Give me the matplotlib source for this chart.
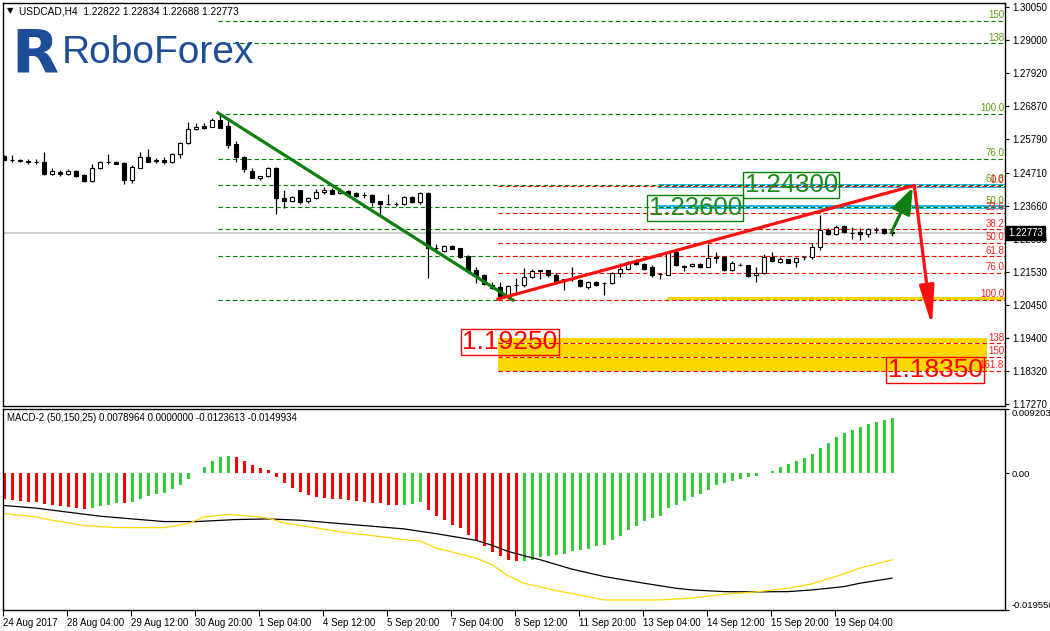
import matplotlib
matplotlib.use('Agg')
import matplotlib.pyplot as plt
import matplotlib.transforms as mtransforms
import numpy as np

# Fonts setting
plt.rcParams['font.family'] = ['Liberation Sans', 'DejaVu Sans']
plt.rcParams['lines.scale_dashes'] = False

# USDCAD H4 candles
opens = [1.2526, 1.2513, 1.2514, 1.2508, 1.2507, 1.2505, 1.2468, 1.2474, 1.2468, 1.2477,
         1.2464, 1.2445, 1.2488, 1.2505, 1.2507, 1.2503, 1.2449, 1.2488, 1.2523, 1.2513,
         1.2514, 1.2505, 1.2533, 1.2566, 1.2611, 1.2622, 1.2620, 1.2641, 1.2621, 1.2564,
         1.2522, 1.2476, 1.2453, 1.2460, 1.2488, 1.2389, 1.2379, 1.2415, 1.2380, 1.2389,
         1.2408, 1.2416, 1.2405, 1.2413, 1.2406, 1.2400, 1.2400, 1.2380, 1.2370, 1.2371,
         1.2370, 1.2393, 1.2376, 1.2405, 1.2229, 1.2221, 1.2236, 1.2228, 1.2203, 1.2158,
         1.2141, 1.2109, 1.2103, 1.2070, 1.2110, 1.2111, 1.2135, 1.2155, 1.2158, 1.2141,
         1.2123, 1.2128, 1.2126, 1.2105, 1.2120, 1.2115, 1.2116, 1.2148, 1.2161, 1.2186,
         1.2178, 1.2169, 1.2144, 1.2143, 1.2216, 1.2169, 1.2171, 1.2178, 1.2169, 1.2201,
         1.2201, 1.2160, 1.2176, 1.2173, 1.2141, 1.2148, 1.2199, 1.2184, 1.2193, 1.2184,
         1.2199, 1.2199, 1.2231, 1.2287, 1.2274, 1.2300, 1.2279, 1.2282, 1.2274, 1.2287,
         1.2289, 1.22822]
highs = [1.2529, 1.2529, 1.2516, 1.2516, 1.2516, 1.2537, 1.2488, 1.2480, 1.2483, 1.2479,
         1.2468, 1.2499, 1.2509, 1.2531, 1.2509, 1.2505, 1.2496, 1.2539, 1.2548, 1.2518,
         1.2521, 1.2535, 1.2569, 1.2636, 1.2630, 1.2630, 1.2647, 1.2661, 1.2649, 1.2574,
         1.2524, 1.2486, 1.2462, 1.2491, 1.2491, 1.2415, 1.2398, 1.2417, 1.2393, 1.2419,
         1.2426, 1.2421, 1.2421, 1.2417, 1.2411, 1.2408, 1.2404, 1.2380, 1.2402, 1.2378,
         1.2396, 1.2396, 1.2411, 1.2411, 1.2241, 1.2239, 1.2238, 1.2229, 1.2206, 1.2169,
         1.2144, 1.2121, 1.2121, 1.2111, 1.2132, 1.2165, 1.2163, 1.2160, 1.2160, 1.2148,
         1.2128, 1.2167, 1.2128, 1.2122, 1.2122, 1.2120, 1.2152, 1.2180, 1.2188, 1.2193,
         1.2180, 1.2173, 1.2150, 1.2221, 1.2219, 1.2175, 1.2180, 1.2182, 1.2242, 1.2216,
         1.2203, 1.2186, 1.2180, 1.2176, 1.2169, 1.2210, 1.2216, 1.2201, 1.2195, 1.2199,
         1.2203, 1.2244, 1.2337, 1.2292, 1.2304, 1.2304, 1.2298, 1.2292, 1.2294, 1.2296,
         1.2294, 1.22834]
lows = [1.2511, 1.2505, 1.2505, 1.2500, 1.2500, 1.2464, 1.2464, 1.2462, 1.2464, 1.2458,
        1.2443, 1.2441, 1.2482, 1.2501, 1.2499, 1.2435, 1.2440, 1.2486, 1.2507, 1.2503,
        1.2499, 1.2503, 1.2520, 1.2563, 1.2610, 1.2612, 1.2618, 1.2617, 1.2552, 1.2505,
        1.2475, 1.2453, 1.2447, 1.2458, 1.2338, 1.2357, 1.2376, 1.2372, 1.2374, 1.2387,
        1.2402, 1.2404, 1.2404, 1.2400, 1.2393, 1.2391, 1.2365, 1.2331, 1.2368, 1.2363,
        1.2368, 1.2374, 1.2370, 1.2132, 1.2213, 1.2217, 1.2225, 1.2197, 1.2150, 1.2115,
        1.2109, 1.2098, 1.2062, 1.2064, 1.2078, 1.2105, 1.2133, 1.2131, 1.2137, 1.2118,
        1.2094, 1.2124, 1.2103, 1.2096, 1.2107, 1.2079, 1.2113, 1.2135, 1.2158, 1.2173,
        1.2158, 1.2137, 1.2128, 1.2141, 1.2171, 1.2156, 1.2167, 1.2165, 1.2167, 1.2182,
        1.2156, 1.2156, 1.2171, 1.2137, 1.2120, 1.2145, 1.2184, 1.2182, 1.2180, 1.2169,
        1.2191, 1.2195, 1.2223, 1.2272, 1.2270, 1.2276, 1.2259, 1.2255, 1.2266, 1.2278,
        1.2274, 1.22688]
closes = [1.2514, 1.2512, 1.2508, 1.2507, 1.2506, 1.2468, 1.2477, 1.2468, 1.2477, 1.2460,
          1.2446, 1.2488, 1.2505, 1.2506, 1.2501, 1.2449, 1.2490, 1.2523, 1.2507, 1.2509,
          1.2505, 1.2533, 1.2566, 1.2612, 1.2619, 1.2617, 1.2640, 1.2617, 1.2561, 1.2521,
          1.2482, 1.2453, 1.2460, 1.2488, 1.2389, 1.2379, 1.2393, 1.2378, 1.2389, 1.2408,
          1.2416, 1.2404, 1.2413, 1.2402, 1.2396, 1.2399, 1.2378, 1.2370, 1.2370, 1.2370,
          1.2393, 1.2376, 1.2405, 1.2228, 1.2228, 1.2236, 1.2227, 1.2201, 1.2156, 1.2139,
          1.2113, 1.2100, 1.2073, 1.2107, 1.2111, 1.2135, 1.2156, 1.2158, 1.2141, 1.2121,
          1.2128, 1.2129, 1.2107, 1.2120, 1.2111, 1.2116, 1.2150, 1.2161, 1.2184, 1.2178,
          1.2163, 1.2141, 1.2145, 1.2216, 1.2173, 1.2170, 1.2177, 1.2169, 1.2197, 1.2197,
          1.2158, 1.2180, 1.2175, 1.2139, 1.2148, 1.2199, 1.2188, 1.2195, 1.2182, 1.2197,
          1.2200, 1.2231, 1.2287, 1.2274, 1.2298, 1.2280, 1.2278, 1.2274, 1.2289, 1.2288,
          1.2278, 1.22773]

# MACD-2 (50,150,25)
macd_hist = [-0.00374, -0.00383, -0.00398, -0.00407, -0.00417, -0.00441, -0.00460, -0.00470, -0.00484, -0.00498,
             -0.00508, -0.00494, -0.00470, -0.00446, -0.00422, -0.00431, -0.00412, -0.00364, -0.00326, -0.00302,
             -0.00288, -0.00220, -0.00173, -0.00086, 0.00010, 0.00096, 0.00173, 0.00230, 0.00244, 0.00230,
             0.00173, 0.00115, 0.00072, 0.00048, -0.00058, -0.00134, -0.00216, -0.00268, -0.00311, -0.00340,
             -0.00359, -0.00369, -0.00374, -0.00383, -0.00398, -0.00403, -0.00422, -0.00431, -0.00446, -0.00460,
             -0.00446, -0.00441, -0.00412, -0.00518, -0.00604, -0.00661, -0.00733, -0.00786, -0.00877, -0.00949,
             -0.01035, -0.01121, -0.01188, -0.01236, -0.01260, -0.01251, -0.01236, -0.01203, -0.01179, -0.01169,
             -0.01150, -0.01117, -0.01102, -0.01078, -0.01045, -0.01021, -0.00958, -0.00891, -0.00815, -0.00748,
             -0.00685, -0.00642, -0.00604, -0.00498, -0.00455, -0.00398, -0.00340, -0.00302, -0.00240, -0.00173,
             -0.00144, -0.00110, -0.00077, -0.00058, -0.00038, 0.00010, 0.00038, 0.00096, 0.00129, 0.00173,
             0.00216, 0.00273, 0.00364, 0.00436, 0.00518, 0.00575, 0.00618, 0.00661, 0.00709, 0.00738,
             0.00757, 0.00790]
black_bars = [0, 4, 8, 12, 16, 20, 24, 29, 33, 37, 42, 46, 50, 54, 59, 61, 63, 65, 67, 71,
              75, 80, 84, 86, 90, 94, 98, 101, 105, 107, 111]
black_line = [-0.00460, -0.00498, -0.00556, -0.00613, -0.00652, -0.00690, -0.00690, -0.00661, -0.00652, -0.00671,
              -0.00719, -0.00757, -0.00795, -0.00863, -0.00958, -0.01030, -0.01117, -0.01179, -0.01236, -0.01371,
              -0.01476, -0.01572, -0.01644, -0.01668, -0.01692, -0.01696, -0.01692, -0.01668, -0.01620, -0.01572,
              -0.01499]
yellow_bars = [0, 4, 6, 10, 14, 20, 23, 25, 28, 31, 33, 35, 39, 43, 46, 50, 52, 54, 59, 61,
               63, 65, 69, 73, 75, 82, 86, 90, 94, 98, 101, 105, 107, 111]
yellow_line = [-0.00575, -0.00623, -0.00671, -0.00748, -0.00776, -0.00776, -0.00719, -0.00623, -0.00589, -0.00613,
               -0.00642, -0.00709, -0.00781, -0.00853, -0.00891, -0.00949, -0.00968, -0.01069, -0.01212, -0.01308,
               -0.01466, -0.01572, -0.01677, -0.01763, -0.01811, -0.01811, -0.01783, -0.01730, -0.01696, -0.01644,
               -0.01581, -0.01438, -0.01356, -0.01236]

price_ticks = [1.30050, 1.29000, 1.27920, 1.26870, 1.25790, 1.24710, 1.23660, 1.22580,
               1.21530, 1.20450, 1.19400, 1.18320, 1.17270]
macd_ticks = [0.009203, 0.0, -0.019550]
macd_tick_labels = ['0.009203', '0.00', '-0.019550']
date_labels = ['24 Aug 2017', '28 Aug 04:00', '29 Aug 12:00', '30 Aug 20:00', '1 Sep 04:00',
               '4 Sep 12:00', '5 Sep 20:00', '7 Sep 04:00', '8 Sep 12:00', '11 Sep 20:00',
               '13 Sep 04:00', '14 Sep 12:00', '15 Sep 20:00', '19 Sep 04:00']

# Fibonacci grids
green_fib_low, green_fib_high = 1.2062, 1.2661
green_fib_ratios = [0.0, 23.6, 38.2, 50.0, 61.8, 76.0, 100.0, 138, 150]
green_fib_shown = [50.0, 61.8, 76.0, 100.0, 138, 150]   # the others sit under the red labels
red_fib_high, red_fib_low = 1.2430, 1.2062
red_fib_ratios = [0.0, 23.6, 38.2, 50.0, 61.8, 76.0, 100.0, 138, 150, 161.8]

current_price = 1.22773
target_up = [1.23600, 1.24300]
target_down = [1.19250, 1.18350]

# Creating the figure
W, H = 1050, 631
fig = plt.figure(figsize=(W / 100, H / 100), dpi=100)
ax = fig.add_axes([3 / W, 225 / H, 1002 / W, 403 / H])
ax2 = fig.add_axes([3 / W, 21 / H, 1002 / W, 201 / H])

bars = np.arange(len(closes))
o = np.array(opens)
c = np.array(closes)
up = c >= o

# candles
ax.vlines(bars, lows, highs, color='black', lw=0.9, zorder=3)
ax.bar(bars, np.abs(c - o), bottom=np.minimum(o, c), width=0.62,
       color=np.where(up, 'white', 'black'), edgecolor='black', linewidth=0.8, zorder=4)

# current price line
ax.axhline(current_price, color='#c0c0c0', lw=1.1, zorder=1)

# zones
ax.fill_between([81.75, 126], 1.2421, 1.2436, color='#1fb5ee', lw=0, zorder=1)
ax.fill_between([81.75, 126], 1.2354, 1.2368, color='#1fb5ee', lw=0, zorder=1)
ax.fill_between([82.9, 126], 1.2062, 1.2072, color='#ffd700', lw=0, zorder=1)
ax.fill_between([61.75, 122.9], 1.1834, 1.1940, color='#ffd700', lw=0, zorder=1)

# green fibo
for r in green_fib_ratios:
    lvl = green_fib_low + r / 100 * (green_fib_high - green_fib_low)
    ax.plot([26.75, 126], [lvl, lvl], color='#008000', lw=0.8, dashes=(3.2, 2.0),
            gapcolor='white', zorder=2)
    if r in green_fib_shown:
        lab = '%g' % r if r > 100 else '%.1f' % r
        ax.text(125.0, lvl + 0.0002, lab, color='#5f9a10', fontsize=7, ha='right', va='bottom', zorder=5)

# red fibo
for r in red_fib_ratios:
    lvl = red_fib_high - r / 100 * (red_fib_high - red_fib_low)
    ax.plot([61.75, 126], [lvl, lvl], color='#ff0000', lw=0.8, dashes=(3.2, 2.0),
            gapcolor='white', zorder=2)
    lab = '%g' % r if r > 100 else '%.1f' % r
    ax.text(125.0, lvl + 0.0002, lab, color='#ff2020', fontsize=7, ha='right', va='bottom', zorder=6)

# trend lines
ax.plot([26.75, 63.6], [1.2664, 1.2062], color='#0f7f0f', lw=2.3, zorder=6)
ax.plot([61.75, 113.75], [1.2065, 1.2430], color='#ff1010', lw=2.3, zorder=6)
ax.annotate('', xy=(113.6, 1.2424), xytext=(110.9, 1.2278),
            arrowprops=dict(arrowstyle='-|>,head_length=1.6,head_width=0.6', color='#0f7f0f',
                            lw=2.3, shrinkA=0, shrinkB=0), zorder=7)
ax.annotate('', xy=(116.0, 1.1978), xytext=(113.8, 1.2428),
            arrowprops=dict(arrowstyle='-|>,head_length=2.4,head_width=0.45', color='#ff1010',
                            lw=2.3, shrinkA=0, shrinkB=0), zorder=7)

# target labels
ax.text(86.4, 1.2358, '%.5f' % target_up[0], color='#1a8c1a', fontsize=18.5, ha='center', va='center',
        bbox=dict(boxstyle='square,pad=0.05', fc='none', ec='#008000', lw=1), zorder=8)
ax.text(98.4, 1.2432, '%.5f' % target_up[1], color='#1a8c1a', fontsize=18.5, ha='center', va='center',
        bbox=dict(boxstyle='square,pad=0.05', fc='none', ec='#008000', lw=1), zorder=8)
ax.text(63.25, 1.1927, '%.5f' % target_down[0], color='#ff0000', fontsize=19, ha='center', va='center',
        bbox=dict(boxstyle='square,pad=0.05', fc='none', ec='#ff0000', lw=1), zorder=8)
ax.text(116.4, 1.1836, '%.5f' % target_down[1], color='#ff0000', fontsize=19, ha='center', va='center',
        bbox=dict(boxstyle='square,pad=0.05', fc='none', ec='#ff0000', lw=1), zorder=8)

# price axis
ax.set_xlim(-0.125, 125.125)
ax.set_ylim(1.17206, 1.30179)
ax.set_xticks([])
ax.yaxis.tick_right()
ax.set_yticks(price_ticks)
ax.set_yticklabels(['%.5f' % p for p in price_ticks])
ax.tick_params(axis='y', direction='out', length=3, width=0.8, labelsize=7, pad=2)
for s in ax.spines.values():
    s.set_linewidth(1)

trans = mtransforms.blended_transform_factory(ax.transAxes, ax.transData)
ax.text(1.003, current_price, '%.5f' % current_price, transform=trans, color='white', fontsize=7,
        ha='left', va='center', clip_on=False, zorder=10,
        bbox=dict(boxstyle='square,pad=0.25', fc='black', ec='black'))

# MACD panel
h = np.array(macd_hist)
rising = np.r_[False, h[1:] > h[:-1]]
ax2.bar(bars, h, width=0.38, color=np.where(rising, '#32cd32', '#ff0000'), lw=0)
ax2.plot(black_bars, black_line, color='black', lw=0.9)
ax2.plot(yellow_bars, yellow_line, color='#ffd700', lw=0.9)
ax2.set_xlim(-0.125, 125.125)
ax2.set_ylim(-0.019550, 0.009203)
ax2.yaxis.tick_right()
ax2.set_yticks(macd_ticks)
ax2.set_yticklabels(macd_tick_labels)
ax2.tick_params(axis='y', direction='out', length=3, width=0.8, labelsize=6.8, pad=2)
ylabs = ax2.get_yticklabels()
ylabs[0].set_va('top')
ylabs[2].set_va('bottom')
ax2.set_xticks(np.arange(len(date_labels)) * 8 - 0.15)
ax2.set_xticklabels(date_labels)
for t in ax2.get_xticklabels():
    t.set_ha('left')
ax2.tick_params(axis='x', direction='out', length=4, width=0.8, labelsize=7, pad=2)
for s in ax2.spines.values():
    s.set_linewidth(1)
ax2.text(0.004, 0.955, 'MACD-2 (50,150,25) 0.0078964 0.0000000 -0.0123613 -0.0149934',
         transform=ax2.transAxes, fontsize=7, ha='left', va='center')

# header and logo
fig.text(7 / W, 1 - 11 / H, '▼', fontsize=6, ha='left', va='center', family='DejaVu Sans')
fig.text(19 / W, 1 - 11 / H, 'USDCAD,H4  1.22822 1.22834 1.22688 1.22773', fontsize=7.3,
         ha='left', va='center')
fig.text(11 / W, 1 - 72 / H, 'R', fontsize=44, fontweight='heavy', family='DejaVu Sans',
         color='#1f4e99', ha='left', va='baseline')
fig.text(62 / W, 1 - 63 / H, 'RoboForex', fontsize=28, color='#1f4e99', ha='left', va='baseline')

fig.savefig('out.png', dpi=100)
